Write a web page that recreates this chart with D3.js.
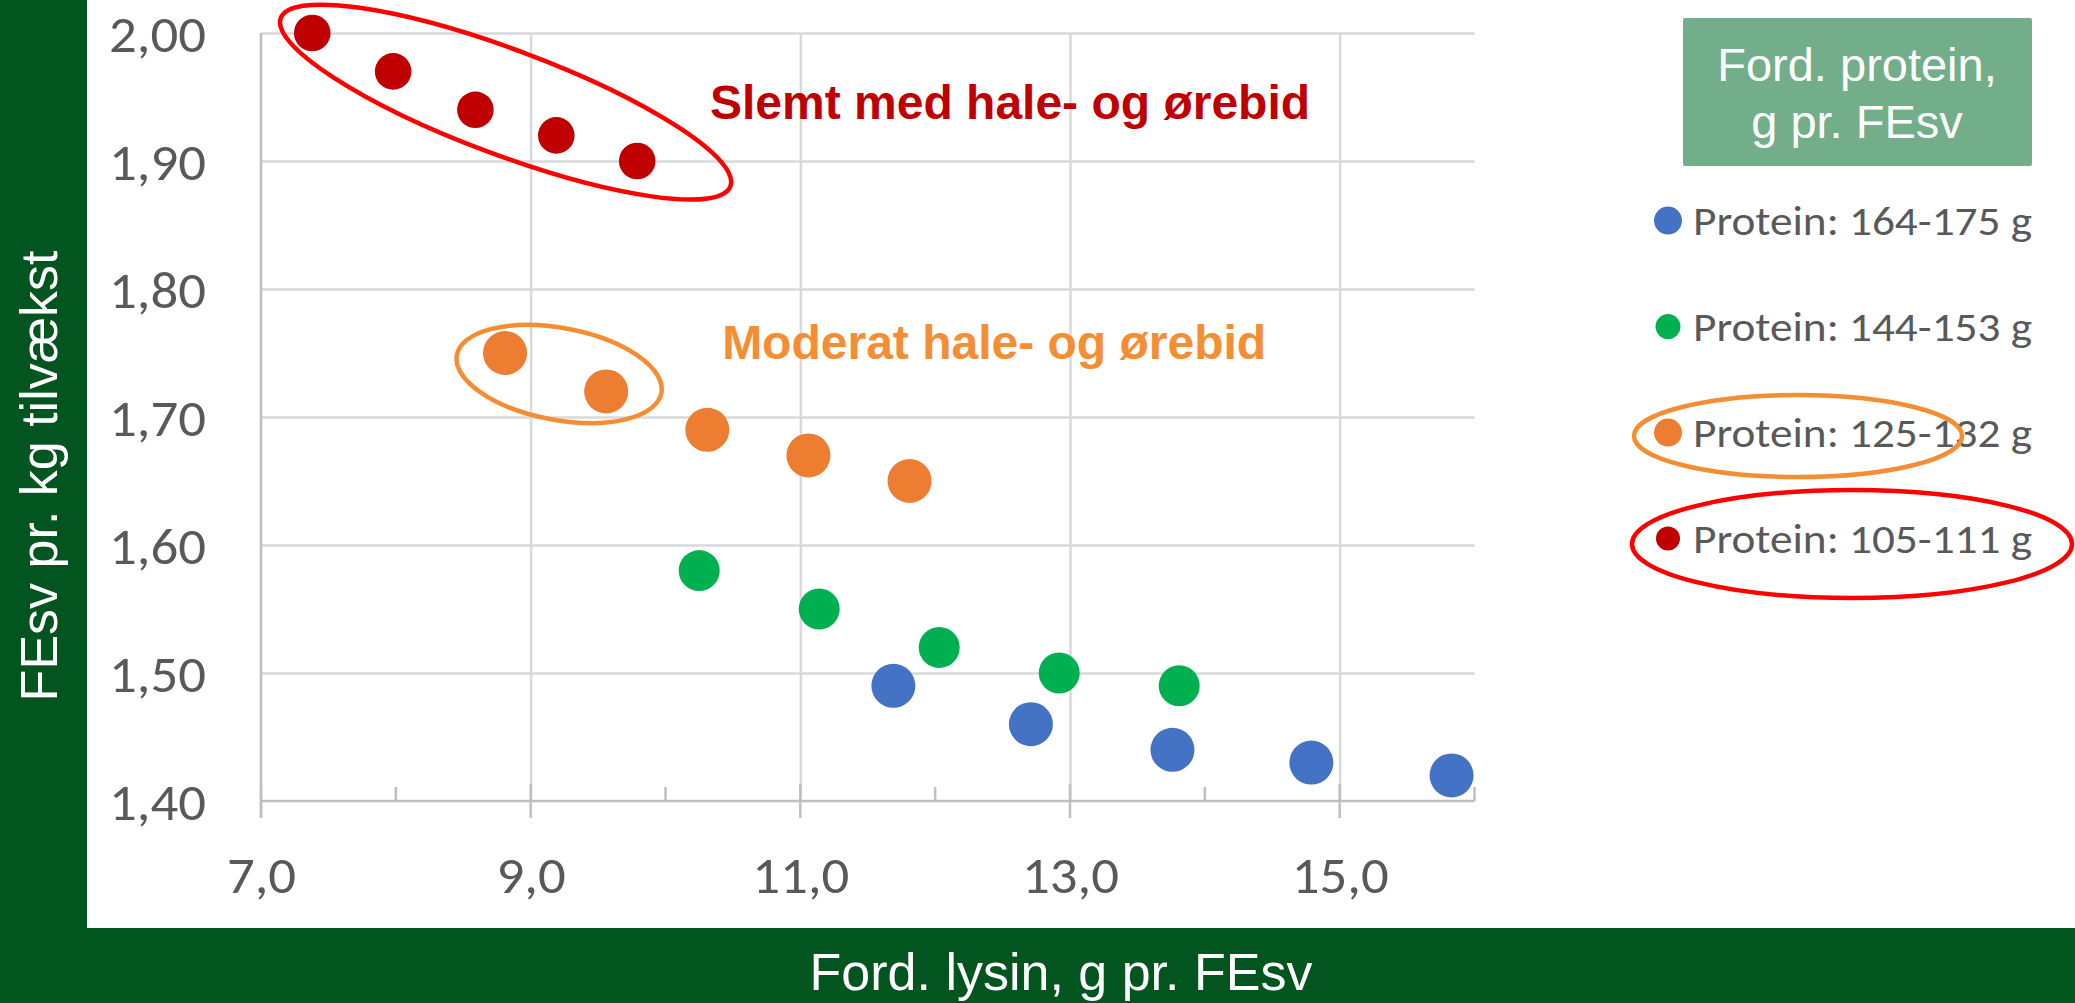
<!DOCTYPE html>
<html><head><meta charset="utf-8">
<script src="https://cdn.jsdelivr.net/npm/d3@7"></script>
<style>body{margin:0;background:#fff;} svg{display:block}</style>
</head><body><svg id="c" width="2075" height="1003"></svg>
<script>
// ---- data ----
const seriesNames = ["Protein: 164-175 g", "Protein: 144-153 g", "Protein: 125-132 g", "Protein: 105-111 g"];
const blueX = [11.69, 12.71, 13.76, 14.79, 15.83];
const blueY = [1.49, 1.46, 1.44, 1.43, 1.42];
const greenX = [10.25, 11.14, 12.03, 12.92, 13.81];
const greenY = [1.58, 1.55, 1.52, 1.50, 1.49];
const orangeX = [8.81, 9.56, 10.31, 11.06, 11.81];
const orangeY = [1.75, 1.72, 1.69, 1.67, 1.65];
const redX = [7.38, 7.98, 8.59, 9.19, 9.79];
const redY = [2.00, 1.97, 1.94, 1.92, 1.90];
const xTicks = [7, 9, 11, 13, 15];
const xMinorTicks = [8, 10, 12, 14, 16];
const yTicks = [1.4, 1.5, 1.6, 1.7, 1.8, 1.9, 2.0];
const xTitle = "Ford. lysin, g pr. FEsv";
const yTitle = "FEsv pr. kg tilvækst";
const legendTitle = ["Ford. protein,", "g pr. FEsv"];
const noteSevere = "Slemt med hale- og ørebid";
const noteModerate = "Moderat hale- og ørebid";

// ---- styles ----
const colors = ["#4472C4", "#00B050", "#ED7D31", "#C00000"];
const markerR = [22, 20.5, 22, 18.3];
const legendR = [14, 12.5, 14, 12];
const darkGreen = "#02551F";
const calibri = "Carlito, Lato, sans-serif";
const arial = "'Liberation Sans', Arial, sans-serif";

const series = [
  {xs: blueX, ys: blueY}, {xs: greenX, ys: greenY},
  {xs: orangeX, ys: orangeY}, {xs: redX, ys: redY}
].map((s, i) => ({name: seriesNames[i], color: colors[i], r: markerR[i], lr: legendR[i],
  pts: s.xs.map((x, j) => ({x, y: s.ys[j]}))}));

const svg = d3.select("#c");
const W = 2075, H = 1003;
svg.append("rect").attr("width", W).attr("height", H).attr("fill", "#fff");
svg.append("rect").attr("x", 0).attr("y", 0).attr("width", 87).attr("height", H).attr("fill", darkGreen);
svg.append("rect").attr("x", 0).attr("y", 928).attr("width", W).attr("height", H - 928).attr("fill", darkGreen);

const x = d3.scaleLinear().domain([7, 16]).range([261, 1474.5]);
const y = d3.scaleLinear().domain([1.4, 2.0]).range([801, 33]);
const fmt2 = d => d3.format(".2f")(d).replace(".", ",");
const fmt1 = d => d3.format(".1f")(d).replace(".", ",");

// stretch Lato horizontally to Calibri-like widths
function stretch(sel, factor) {
  sel.each(function () {
    const w = this.getComputedTextLength();
    d3.select(this).attr("textLength", w * factor).attr("lengthAdjust", "spacingAndGlyphs");
  });
}

// horizontal gridlines
const gy = svg.append("g").attr("transform", `translate(${x(7)},0)`)
  .call(d3.axisLeft(y).tickValues(yTicks.filter(v => v > 1.4)).tickSize(-(x(16) - x(7))).tickFormat(""));
gy.select(".domain").remove();
gy.selectAll(".tick line").attr("stroke", "#D9D9D9").attr("stroke-width", 2.5);
// vertical gridlines
const gx = svg.append("g").attr("transform", `translate(0,${y(1.4)})`)
  .call(d3.axisBottom(x).tickValues(xTicks.filter(v => v > 7)).tickSize(-(y(1.4) - y(2.0))).tickFormat(""));
gx.select(".domain").remove();
gx.selectAll(".tick line").attr("stroke", "#D9D9D9").attr("stroke-width", 2.5);

// axes lines
const axisCol = "#BFBFBF";
svg.append("line").attr("x1", x(7)).attr("x2", x(16)).attr("y1", y(1.4)).attr("y2", y(1.4))
  .attr("stroke", axisCol).attr("stroke-width", 2.5);
svg.append("line").attr("x1", x(7)).attr("x2", x(7)).attr("y1", y(2.0)).attr("y2", y(1.4) + 17)
  .attr("stroke", axisCol).attr("stroke-width", 2.5);
svg.append("g").selectAll("line").data(xTicks).join("line")
  .attr("x1", d => x(d)).attr("x2", d => x(d)).attr("y1", y(1.4) - 17).attr("y2", y(1.4) + 17)
  .attr("stroke", axisCol).attr("stroke-width", 2.5);
svg.append("g").selectAll("line").data(xMinorTicks).join("line")
  .attr("x1", d => x(d)).attr("x2", d => x(d)).attr("y1", y(1.4) - 14).attr("y2", y(1.4))
  .attr("stroke", axisCol).attr("stroke-width", 2.5);

// tick labels via axes
const yl = svg.append("g").attr("transform", `translate(206,0)`)
  .call(d3.axisLeft(y).tickValues(yTicks).tickSize(0).tickPadding(0).tickFormat(fmt2));
yl.select(".domain").remove();
const ylt = yl.selectAll("text").attr("font-family", calibri).attr("font-size", 51).attr("fill", "#595959")
  .attr("dy", 18).attr("text-anchor", "end");
const xl = svg.append("g").attr("transform", `translate(0,${y(1.4)})`)
  .call(d3.axisBottom(x).tickValues(xTicks).tickSize(0).tickPadding(0).tickFormat(fmt1));
xl.select(".domain").remove();
const xlt = xl.selectAll("text").attr("font-family", calibri).attr("font-size", 51).attr("fill", "#595959")
  .attr("y", 92).attr("dy", 0);
const refW = ylt.filter(d => d === 2.0).node().getComputedTextLength();
const tickFactor = 97 / refW;
stretch(ylt, tickFactor);
stretch(xlt, tickFactor);

// axis titles
svg.append("text").attr("x", 1061).attr("y", 990).attr("text-anchor", "middle")
  .attr("font-family", arial).attr("font-size", 52).attr("fill", "#fff").text(xTitle);
svg.append("text").attr("transform", "translate(57,476) rotate(-90)").attr("text-anchor", "middle")
  .attr("font-family", arial).attr("font-size", 52).attr("fill", "#fff").text(yTitle);

// points
series.forEach(s => {
  svg.append("g").selectAll("circle").data(s.pts).join("circle")
    .attr("cx", d => x(d.x)).attr("cy", d => y(d.y)).attr("r", s.r).attr("fill", s.color);
});

// annotations
const redLine = "#FF0000", orangeLine = "#F58D33";
svg.append("ellipse").attr("transform", `translate(${x(8.814)},${y(1.946)}) rotate(20.5)`)
  .attr("rx", 240).attr("ry", 52.6).attr("fill", "none").attr("stroke", redLine).attr("stroke-width", 4.5);
svg.append("ellipse").attr("transform", `translate(${x(9.211)},${y(1.7336)}) rotate(10.5)`)
  .attr("rx", 104).attr("ry", 46).attr("fill", "none").attr("stroke", orangeLine).attr("stroke-width", 4.5);
svg.append("text").attr("x", x(10.33)).attr("y", y(1.9326)).attr("font-family", arial).attr("font-weight", "bold")
  .attr("font-size", 48).attr("fill", "#C00000").text(noteSevere);
svg.append("text").attr("x", x(10.42)).attr("y", y(1.7452)).attr("font-family", arial).attr("font-weight", "bold")
  .attr("font-size", 48).attr("fill", orangeLine).text(noteModerate);

// legend
svg.append("rect").attr("x", 1683).attr("y", 18).attr("width", 349).attr("height", 148).attr("rx", 2)
  .attr("fill", "#72AE8A");
svg.append("text").attr("text-anchor", "middle").attr("font-family", arial).attr("font-size", 47).attr("fill", "#fff")
  .selectAll("tspan").data(legendTitle).join("tspan").attr("x", 1857).attr("y", (d, i) => 81 + i * 57).text(d => d);
const lg = svg.append("g").selectAll("g").data(series).join("g")
  .attr("transform", (d, i) => `translate(1668,${220.6 + i * 106})`);
lg.append("circle").attr("r", d => d.lr).attr("fill", d => d.color);
const lgt = lg.append("text").attr("x", 25).attr("y", 14).attr("font-family", calibri).attr("font-size", 40)
  .attr("fill", "#595959").text(d => d.name);
const legFactor = 339 / lgt.filter((d, i) => i === 0).node().getComputedTextLength();
stretch(lgt, legFactor);
svg.append("ellipse").attr("cx", 1798).attr("cy", 436).attr("rx", 164).attr("ry", 41)
  .attr("fill", "none").attr("stroke", orangeLine).attr("stroke-width", 4.5);
svg.append("ellipse").attr("cx", 1852).attr("cy", 544).attr("rx", 220).attr("ry", 54)
  .attr("fill", "none").attr("stroke", redLine).attr("stroke-width", 4.5);
</script></body></html>
